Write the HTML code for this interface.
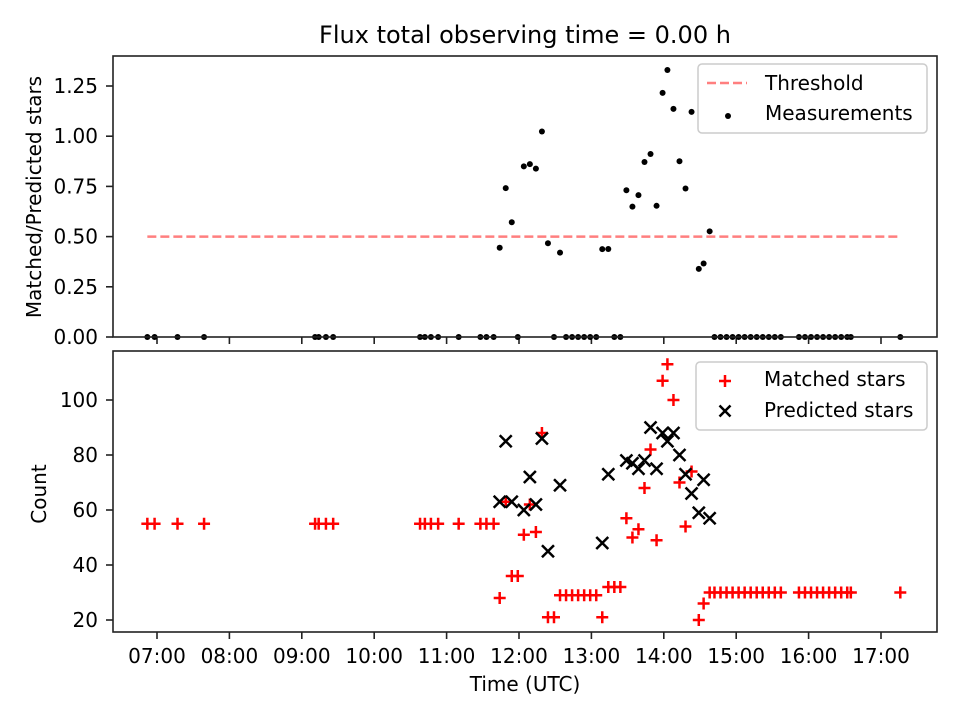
<!DOCTYPE html>
<html><head><meta charset="utf-8"><style>
body{margin:0;background:#fff;font-family:"Liberation Sans","DejaVu Sans",sans-serif}
svg text{font-family:"DejaVu Sans","Liberation Sans",sans-serif;fill:#000}
</style></head><body>
<svg id="c" width="960" height="720" xmlns="http://www.w3.org/2000/svg"></svg>
<script>
const times = ["06:52","06:58","07:17","07:39","09:11","09:14","09:20","09:26","10:38","10:42","10:47","10:53","11:10","11:28","11:33","11:39","11:44","11:49","11:54","11:59","12:04","12:09","12:14","12:19","12:24","12:29","12:34","12:39","12:44","12:49","12:54","12:59","13:04","13:09","13:14","13:19","13:24","13:29","13:34","13:39","13:44","13:49","13:54","13:59","14:03","14:08","14:13","14:18","14:23","14:29","14:33","14:38","14:42","14:47","14:52","14:57","15:02","15:07","15:12","15:17","15:22","15:27","15:32","15:37","15:52","15:57","16:02","16:07","16:12","16:17","16:22","16:27","16:32","16:35","17:16"];
const matched = [55,55,55,55,55,55,55,55,55,55,55,55,55,55,55,55,28,63,36,36,51,62,52,88,21,21,29,29,29,29,29,29,29,21,32,32,32,57,50,53,68,82,49,107,113,100,70,54,74,20,26,30,30,30,30,30,30,30,30,30,30,30,30,30,30,30,30,30,30,30,30,30,30,30,30];
const predicted = [null,null,null,null,null,null,null,null,null,null,null,null,null,null,null,null,63,85,63,null,60,72,62,86,45,null,69,null,null,null,null,null,null,48,73,null,null,78,77,75,78,90,75,88,85,88,80,73,66,59,71,57];
const threshold = 0.5;
const topTicks = [0,0.25,0.5,0.75,1.0,1.25];
const botTicks = [20,40,60,80,100];
const xTickLabels = ["07:00","08:00","09:00","10:00","11:00","12:00","13:00","14:00","15:00","16:00","17:00"];

const svg=document.getElementById('c');const NS='http://www.w3.org/2000/svg';
function el(t,a,p){const e=document.createElementNS(NS,t);for(const k in a)e.setAttribute(k,a[k]);(p||svg).appendChild(e);return e;}
function mins(s){const p=s.split(':');return +p[0]*60+ +p[1];}
const L=113,R=937;
const xs=m=>157+(m-420)*72.4/60;
const yTop=v=>337-v*200.8;
const yBot=v=>620-(v-20)*2.75;
const ratio=times.map((t,i)=>predicted[i]!=null&&predicted[i]?matched[i]/predicted[i]:0);

let t=el('text',{x:525,y:43,'font-size':24,'text-anchor':'middle'});t.textContent='Flux total observing time = 0.00 h';


function frame(y0,y1,name){const r=el('rect',{x:L,y:y0,width:R-L,height:y1-y0,fill:'none',stroke:'#222','stroke-width':1.6});
}
function xticks(yb,labels){xTickLabels.forEach((lab,i)=>{const x=xs(420+60*i);
 el('line',{x1:x,y1:yb,x2:x,y2:yb+7,stroke:'#222','stroke-width':1.6});
 if(labels){const tx=el('text',{x:x,y:663,'font-size':20,'text-anchor':'middle'});tx.textContent=lab;
 }});}
topTicks.forEach(v=>{const y=yTop(v);el('line',{x1:L-7,y1:y,x2:L,y2:y,stroke:'#222','stroke-width':1.6});
 const tx=el('text',{x:98,y:y+7,'font-size':20,'text-anchor':'end'});tx.textContent=v.toFixed(2);
 });
xticks(337,false);
const th=el('line',{x1:xs(mins(times[0])),x2:xs(mins(times[times.length-1])),y1:yTop(threshold),y2:yTop(threshold),stroke:'#ff7f7f','stroke-width':2.5,'stroke-dasharray':'9,4'});

times.forEach((tm,i)=>{const c=el('circle',{cx:xs(mins(tm)),cy:yTop(ratio[i]),r:3,fill:'#000'});
 });
frame(56,337,'top-axes');
let yl=el('text',{x:0,y:0,'font-size':20,'text-anchor':'middle',transform:'translate(41,197) rotate(-90)'});yl.textContent='Matched/Predicted stars';

const lg1=el('g',{});
el('rect',{x:698,y:64,width:229,height:69,rx:4,fill:'#fff',stroke:'#ccc','stroke-width':1.5},lg1);
el('line',{x1:707,x2:747,y1:83,y2:83,stroke:'#ff7f7f','stroke-width':2.5,'stroke-dasharray':'9,4'},lg1);
let a=el('text',{x:765,y:90,'font-size':20},lg1);a.textContent='Threshold';
el('circle',{cx:728,cy:116,r:3,fill:'#000'},lg1);
a=el('text',{x:765,y:120,'font-size':20},lg1);a.textContent='Measurements';
botTicks.forEach(v=>{const y=yBot(v);el('line',{x1:L-7,y1:y,x2:L,y2:y,stroke:'#222','stroke-width':1.6});
 const tx=el('text',{x:98,y:y+7,'font-size':20,'text-anchor':'end'});tx.textContent=v;
 });
xticks(632,true);
times.forEach((tm,i)=>{const x=xs(mins(tm)),y=yBot(matched[i]);
 const p=el('path',{d:`M${x-6},${y}H${x+6}M${x},${y-6}V${y+6}`,stroke:'#f00','stroke-width':2.5});
 });
times.forEach((tm,i)=>{if(predicted[i]==null)return;const x=xs(mins(tm)),y=yBot(predicted[i]);
 const p=el('path',{d:`M${x-6},${y-6}L${x+6},${y+6}M${x-6},${y+6}L${x+6},${y-6}`,stroke:'#000','stroke-width':2.5});
 });
frame(351,632,'bottom-axes');
yl=el('text',{x:0,y:0,'font-size':20,'text-anchor':'middle',transform:'translate(46,494) rotate(-90)'});yl.textContent='Count';

let xl=el('text',{x:525,y:691,'font-size':20,'text-anchor':'middle'});xl.textContent='Time (UTC)';

const lg2=el('g',{});
el('rect',{x:696,y:362,width:231,height:68,rx:4,fill:'#fff',stroke:'#ccc','stroke-width':1.5},lg2);
el('path',{d:'M719,381H731M725,375V387',stroke:'#f00','stroke-width':2.5},lg2);
a=el('text',{x:764,y:386,'font-size':20},lg2);a.textContent='Matched stars';
el('path',{d:'M719.5,405.5L730.5,416.5M719.5,416.5L730.5,405.5',stroke:'#000','stroke-width':2.5},lg2);
a=el('text',{x:764,y:417,'font-size':20},lg2);a.textContent='Predicted stars';
</script>
</body></html>
